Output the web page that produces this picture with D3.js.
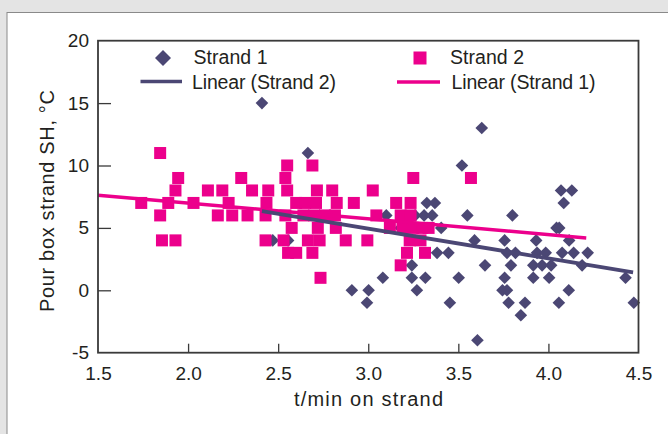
<!DOCTYPE html>
<html><head><meta charset="utf-8">
<script src="https://cdn.jsdelivr.net/npm/d3@7"></script>
<style>
html,body{margin:0;padding:0;background:#e4e4e4;}
svg{display:block;font-family:"Liberation Sans",Arial,sans-serif;}
</style></head><body>
<svg id="chart" width="668" height="434"></svg>
<script>
// ---- data ----
const xTicks = [1.5, 2.0, 2.5, 3.0, 3.5, 4.0, 4.5];
const yTicks = [-5, 0, 5, 10, 15, 20];
const xTitle = "t/min on strand";
const yTitle = "Pour box strand SH, °C";

// Strand 1 (diamonds): [t, SH]
const strand1 = [
  [2.41,15],[3.63,13],[2.665,11],[3.52,10],
  [4.07,8],[4.13,8],
  [3.325,7],[3.37,7],[4.085,7],
  [3.10,6],[3.26,6],[3.31,6],[3.355,6],[3.55,6],[3.80,6],
  [3.18,5],[3.405,5],[4.045,5],[4.06,5],
  [2.47,4],[2.555,4],[3.59,4],[3.757,4],[3.932,4],[4.115,4],
  [3.382,3],[3.445,3],[3.77,3],[3.817,3],[3.937,3],[3.985,3],[4.076,3],[4.14,3],[4.218,3],
  [3.242,2],[3.648,2],[3.792,2],[3.916,2],[3.965,2],[4.015,2],[4.187,2],
  [3.081,1],[3.242,1],[3.317,1],[3.502,1],[3.757,1],[3.916,1],[4.004,1],[4.428,1],
  [2.909,0],[3.002,0],[3.27,0],[3.745,0],[3.77,0],[4.113,0],
  [2.993,-1],[3.453,-1],[3.779,-1],[3.87,-1],[4.058,-1],[4.474,-1],
  [3.847,-2],[3.606,-4]
];

// Strand 2 (squares): [t, SH]
const strand2 = [
  [1.845,11],
  [2.55,10],[2.69,10],
  [1.945,9],[2.295,9],[2.54,9],[3.25,9],[3.57,9],
  [1.93,8],[2.11,8],[2.19,8],[2.355,8],[2.445,8],[2.55,8],[2.715,8],[2.80,8],[3.025,8],
  [1.74,7],[1.89,7],[2.03,7],[2.225,7],[2.435,7],[2.60,7],[2.65,7],[2.71,7],[2.825,7],[2.92,7],[3.155,7],[3.235,7],
  [1.845,6],[2.165,6],[2.245,6],[2.33,6],[2.43,6],[2.54,6],[2.64,6],[2.70,6],[2.76,6],[2.815,6],[3.045,6],[3.18,6],[3.235,6],
  [2.575,5],[2.72,5],[2.82,5],[3.12,5],[3.19,5],[3.25,5],[3.30,5],[3.335,5],
  [1.855,4],[1.93,4],[2.43,4],[2.53,4],[2.665,4],[2.73,4],[2.875,4],[2.995,4],[3.23,4],[3.29,4],
  [2.555,3],[2.60,3],[2.69,3],[3.215,3],[3.315,3],
  [3.18,2],
  [2.735,1]
];

// trend lines: [t, SH] endpoints
const trendDark = [[2.41,6.34],[4.47,1.44]];
const trendPink = [[1.5,7.62],[4.21,4.2]];

const legendLabels = ["Strand 1", "Strand 2", "Linear (Strand 2)", "Linear (Strand 1)"];

// ---- styles ----
const DARK = "#4b4774", PINK = "#ec008c", INK = "#231f20", FRAME = "#3a3a3a";
const W = 668, H = 434;
const plot = {left: 98, right: 638.5, top: 40.7, bottom: 352.7};

const svg = d3.select("#chart");
svg.append("rect").attr("x",0).attr("y",0).attr("width",W).attr("height",H).attr("fill","#e4e4e4");
svg.append("rect").attr("x",7).attr("y",12.5).attr("width",W).attr("height",H)
  .attr("fill","#fff").attr("stroke","#8a8a8a").attr("stroke-width",1);

const x = d3.scaleLinear().domain([1.5,4.5]).range([plot.left, plot.right]);
const y = d3.scaleLinear().domain([-5,20]).range([plot.bottom, plot.top]);

// axes
const fmtX = d3.format(".1f");
const gx = svg.append("g").attr("transform",`translate(0,${plot.bottom})`)
  .call(d3.axisBottom(x).tickValues(xTicks).tickFormat(fmtX).tickSize(-9).tickPadding(14));
const gy = svg.append("g").attr("transform",`translate(${plot.left},0)`)
  .call(d3.axisLeft(y).tickValues(yTicks).tickFormat(d => String(d)).tickSize(-13).tickPadding(9));
[gx, gy].forEach(g => {
  g.select(".domain").remove();
  g.selectAll(".tick line").attr("stroke", FRAME).attr("stroke-width", 1.3);
  g.selectAll(".tick text").attr("fill", INK).style("font-size","19px")
    .style("font-family","'Liberation Sans',Arial,sans-serif");
});
gx.selectAll(".tick").filter(d => d === 1.5 || d === 4.5).select("line").remove();
gy.selectAll(".tick").filter(d => d === -5 || d === 20).select("line").remove();

// markers
const diamondPath = (cx, cy, r) => `M${cx},${cy-r}L${cx+r},${cy}L${cx},${cy+r}L${cx-r},${cy}Z`;
svg.append("g").selectAll("path").data(strand1).join("path")
  .attr("d", d => diamondPath(x(d[0]), y(d[1]), 6.3))
  .attr("fill", DARK);
svg.append("g").selectAll("rect").data(strand2).join("rect")
  .attr("x", d => x(d[0]) - 6).attr("y", d => y(d[1]) - 6)
  .attr("width", 12).attr("height", 12).attr("fill", PINK);

// trend lines
const line = d3.line().x(d => x(d[0])).y(d => y(d[1]));
svg.append("path").datum(trendPink).attr("d", line).attr("stroke", PINK).attr("stroke-width", 3.5).attr("fill","none");
svg.append("path").datum(trendDark).attr("d", line).attr("stroke", DARK).attr("stroke-width", 3.8).attr("fill","none");

// frame
svg.append("rect").attr("x",plot.left).attr("y",plot.top)
  .attr("width",plot.right-plot.left).attr("height",plot.bottom-plot.top)
  .attr("fill","none").attr("stroke",FRAME).attr("stroke-width",1.8);

// legend
const lg = svg.append("g").style("font-size","19.5px").attr("fill", INK);
lg.append("path").attr("d", diamondPath(163, 58, 8)).attr("fill", DARK);
lg.append("text").attr("x",193.5).attr("y",64).attr("textLength",74).text(legendLabels[0]);
lg.append("rect").attr("x",413.5).attr("y",51.5).attr("width",13).attr("height",13).attr("fill",PINK);
lg.append("text").attr("x",450).attr("y",64).attr("textLength",74).text(legendLabels[1]);
lg.append("line").attr("x1",140.5).attr("x2",182).attr("y1",81.6).attr("y2",81.6).attr("stroke",DARK).attr("stroke-width",3.5);
lg.append("text").attr("x",192).attr("y",89).attr("textLength",144).text(legendLabels[2]);
lg.append("line").attr("x1",397).attr("x2",440).attr("y1",82).attr("y2",82).attr("stroke",PINK).attr("stroke-width",3.5);
lg.append("text").attr("x",451.5).attr("y",89).attr("textLength",144).text(legendLabels[3]);

// axis titles
svg.append("text").attr("x", 294).attr("y", 406).attr("textLength",149)
  .style("font-size","20px").attr("fill",INK).text(xTitle);
svg.append("text").attr("transform","translate(54,312) rotate(-90)").attr("textLength",222)
  .style("font-size","20px").attr("fill",INK).text(yTitle);
</script>
</body></html>
